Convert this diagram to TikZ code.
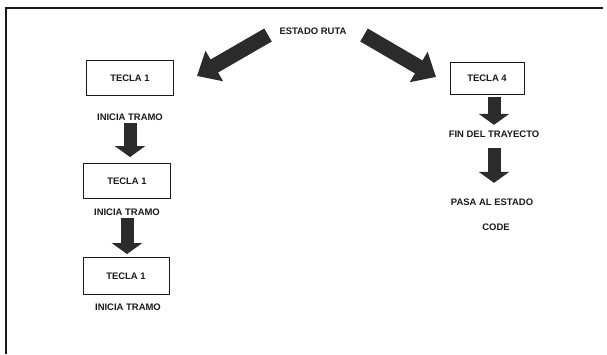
\documentclass[tikz,border=0pt]{standalone}
\usepackage{fontspec}
\setmainfont{Liberation Sans}
\usetikzlibrary{arrows.meta, positioning, calc}
\definecolor{rtInk}{HTML}{1A1A1A}
\definecolor{rtFill}{HTML}{2B2B2B}

\begin{document}
\begin{tikzpicture}[
    x=1bp, y=-1bp,
    key/.style={draw=rtInk, line width=0.9pt, minimum width=87bp, minimum height=35bp,
                inner sep=0pt, font=\fontsize{9.5}{11}\selectfont\bfseries, text=rtInk},
    lbl/.style={inner sep=0pt, font=\fontsize{9.5}{11}\selectfont\bfseries, text=rtInk},
    fat/.style={draw=rtFill, line width=15bp, line cap=butt,
                -{Triangle[length=20bp, width=34bp]}},
    down/.style={draw=rtFill, line width=13bp, line cap=butt,
                 -{Triangle[length=11bp, width=30bp]}},
  ]
  \useasboundingbox (0,0) rectangle (607,354);
  % frame (left and top only)
  \draw[rtInk, line width=1.1pt] (6,354) -- (6,8) -- (603,8);

  \node[lbl] (estado) at (313,31) {ESTADO RUTA};

  % left column
  \node[key] (t1a) at (130,78)  {TECLA 1};
  \node[lbl] (ini1) at (130,117) {INICIA TRAMO};
  \node[key] (t1b) at (127,181) {TECLA 1};
  \node[lbl] (ini2) at (127,212) {INICIA TRAMO};
  \node[key, minimum width=86bp, minimum height=37bp] (t1c) at (126,276) {TECLA 1};
  \node[lbl] (ini3) at (128,307) {INICIA TRAMO};

  % right column
  \node[key, minimum width=74bp, minimum height=32bp] (t4) at (487,78) {TECLA 4};
  \node[lbl] (fin) at (494,134) {FIN DEL TRAYECTO};
  \node[lbl] (pasa) at (492,202) {PASA AL ESTADO};
  \node[lbl] (code) at (496,227) {CODE};

  % big arrows out of ESTADO RUTA
  \coordinate (la) at (268,35);
  \coordinate (lb) at (197,76);
  \coordinate (ra) at (364,35);
  \coordinate (rb) at (436,77);
  \draw[fat] (la) -- (lb);
  \draw[fat] (ra) -- (rb);

  \draw[down, shorten <=2.6bp, shorten >=6bp] (ini1.south) -- (ini1.south |- t1b.north);
  \draw[down, shorten <=2.6bp, shorten >=3bp] (ini2.south) -- (ini2.south |- t1c.north);
  \draw[down, shorten <=3bp, shorten >=5.6bp] (fin.north |- t4.south) -- (fin.north);
  \draw[down, shorten <=10.6bp, shorten >=15.6bp] (fin.south) -- (fin.south |- pasa.north);
\end{tikzpicture}
\end{document}
